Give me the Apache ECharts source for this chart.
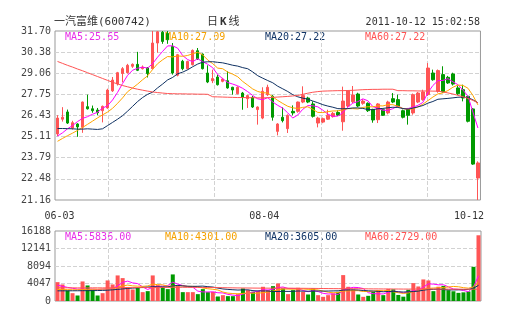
<!DOCTYPE html>
<html>
<head>
<meta charset="utf-8">
<title>一汽富维(600742) 日K线</title>
<script src="https://cdn.jsdelivr.net/npm/echarts@6.0.0/dist/echarts.min.js"></script>
<style>
html, body { margin: 0; padding: 0; background: #fff; }
#chart { width: 505px; height: 330px; }
</style>
</head>
<body>
<div id="chart"></div>
<script>
// ---- header texts ----
const stockName = '一汽富维(600742)';
const periodName = '日K线';
const quoteTime = '2011-10-12 15:02:58';

// ---- daily bars ----
const dates = [
  '06-03','06-07','06-08','06-09','06-10','06-13','06-14','06-15','06-16','06-17',
  '06-20','06-21','06-22','06-23','06-24','06-27','06-28','06-29','06-30',
  '07-01','07-04','07-05','07-06','07-07','07-08','07-11','07-12','07-13','07-14','07-15',
  '07-18','07-20','07-21','07-22','07-25','07-26','07-27','07-28','07-29',
  '08-01','08-02','08-03','08-04','08-05','08-08','08-09','08-10','08-11','08-12',
  '08-15','08-16','08-17','08-18','08-19','08-22','08-23','08-24','08-25','08-26',
  '08-29','08-30','08-31',
  '09-01','09-02','09-05','09-06','09-07','09-08','09-09','09-13','09-14','09-15','09-16',
  '09-19','09-20','09-21','09-23','09-26','09-27','09-28','09-29','09-30',
  '10-10','10-11','10-12'
];
const opens = [
  25.28,26.20,26.65,25.65,25.90,25.70,26.98,26.85,26.77,26.73,
  26.90,27.97,28.40,29.05,29.10,29.50,29.62,29.35,29.40,29.35,
  30.95,31.62,31.55,30.74,28.94,29.81,29.35,29.60,30.47,30.26,
  29.08,28.60,28.83,28.56,28.60,28.19,27.79,27.83,27.48,27.56,
  26.80,26.27,27.73,27.63,25.44,26.32,25.61,26.69,26.69,27.27,
  27.52,27.15,25.96,26.02,26.20,26.36,26.62,26.04,27.02,27.29,
  27.77,27.19,27.19,26.81,26.17,26.79,26.59,27.48,27.42,26.73,
  26.84,26.59,27.27,27.42,27.73,29.08,27.94,28.98,28.81,29.02,
  28.15,28.04,27.63,26.84,22.53
];
const closes = [
  26.27,26.32,25.96,25.98,25.72,27.27,26.85,26.73,26.60,27.00,
  28.02,28.64,29.10,29.35,29.56,29.62,29.25,29.45,29.05,30.95,
  31.65,31.05,31.15,29.08,30.22,29.35,29.80,30.49,29.97,29.35,
  28.52,28.73,28.35,28.70,28.15,28.02,28.19,27.56,27.67,26.96,
  26.96,27.94,28.19,26.32,25.90,26.11,26.44,26.59,27.27,27.67,
  27.27,26.38,26.27,26.23,26.45,26.56,26.45,27.33,27.96,27.71,
  27.02,27.33,26.73,26.15,27.15,26.44,27.27,27.27,27.00,26.32,
  26.44,27.73,27.83,27.90,29.39,28.66,29.23,27.90,28.46,28.39,
  27.79,27.52,26.07,23.40,23.47
];
const lows = [
  25.15,26.05,25.90,25.55,25.10,25.35,26.80,26.60,26.45,26.00,
  26.85,27.90,28.30,28.50,29.05,29.40,29.20,29.30,28.80,29.30,
  30.35,30.90,30.90,28.98,28.87,29.25,29.30,29.55,29.90,29.30,
  28.45,28.45,28.30,28.50,28.10,27.73,27.75,26.79,26.90,26.90,
  25.86,26.20,27.65,26.11,25.19,26.00,25.34,26.44,26.60,27.20,
  27.20,26.30,25.69,25.95,26.15,26.30,26.40,25.48,26.95,27.20,
  26.95,27.10,26.65,25.98,25.96,26.40,26.50,27.20,26.95,26.25,
  25.86,26.48,27.20,27.35,27.65,28.60,27.85,27.85,28.40,28.30,
  27.70,27.31,26.00,23.35,21.16
];
const highs = [
  26.45,26.95,26.80,26.10,25.95,27.30,27.73,27.05,26.90,27.05,
  28.10,28.83,29.15,29.45,29.65,29.68,30.40,29.55,29.45,31.70,
  31.70,31.70,31.70,30.95,30.27,29.90,29.85,30.55,30.64,30.30,
  29.56,29.29,28.98,28.78,29.19,28.22,28.25,27.90,27.72,27.65,
  27.00,28.19,28.35,27.70,25.95,26.94,26.50,27.06,27.30,28.25,
  27.60,27.31,26.35,26.30,26.79,26.65,26.75,28.23,28.00,28.27,
  27.85,27.45,27.25,26.85,27.20,26.85,27.35,27.83,27.73,26.80,
  26.90,27.80,27.90,28.04,29.70,29.29,29.30,29.50,28.90,29.10,
  28.30,28.35,27.70,26.90,23.57
];
const volumes = [
  4360,3826,2435,1809,1275,4522,3594,2590,1275,1809,
  4754,3826,5913,5295,3208,2667,3053,2048,2280,5913,
  3671,3285,2743,6145,3671,2048,2048,2048,1584,2743,
  2048,2125,1043,1352,1120,1120,1584,2898,2511,2125,
  2280,3285,2511,3440,4057,2898,1584,2511,3053,2125,
  1507,2898,1352,965,1352,1738,2125,5990,3285,2666,
  1507,965,1197,2125,2511,1352,2800,2700,1400,1000,
  2600,4135,3363,4986,4754,2280,3300,3500,2500,2250,
  1880,2000,2200,7900,15200
];

// moving-average values for the days before a full window is on screen
const ma5Lead = [25.15, 25.35, 25.60, 25.80];
const ma10Lead = [24.82, 25.00, 25.17, 25.33, 25.50, 25.68, 25.88, 26.08, 26.28];
const ma20Lead = [
  25.62, 25.62, 25.61, 25.60, 25.58, 25.58, 25.60, 25.58, 25.56, 25.60,
  25.80, 26.00, 26.20, 26.42, 26.70, 27.00, 27.30, 27.55, 27.75
];
const ma60 = [
  29.80,29.68,29.56,29.45,29.33,29.22,29.10,28.98,28.86,28.74,
  28.62,28.50,28.40,28.30,28.22,28.14,28.07,28.01,27.95,27.90,
  27.86,27.83,27.80,27.79,27.78,27.78,27.77,27.77,27.76,27.76,
  27.75,27.60,27.59,27.58,27.57,27.56,27.55,27.55,27.54,27.54,
  27.53,27.53,27.54,27.56,27.58,27.60,27.62,27.65,27.68,27.75,
  27.82,27.88,27.92,27.95,27.96,27.97,27.98,27.98,27.99,28.00,
  28.02,28.04,28.05,28.06,28.06,28.07,28.07,28.07,27.98,27.98,
  27.97,27.97,27.96,27.96,27.96,27.95,27.95,27.90,27.84,27.77,
  27.69,27.60,27.50,27.37,27.22
];

const volMa5Lead = [3650, 3400, 3150, 2950];
const volMa10Lead = [2650, 2640, 2620, 2600, 2600, 2650, 2700, 2720, 2740];
const volMa20Lead = [
  2350, 2350, 2360, 2360, 2370, 2380, 2390, 2400, 2420, 2450,
  2500, 2580, 2680, 2800, 2900, 2980, 3060, 3140, 3220
];
const volMa60 = [
  3050,3045,3040,3035,3030,3030,3035,3040,3040,3035,
  3040,3050,3070,3090,3100,3100,3105,3100,3110,3130,
  3140,3145,3150,3170,3175,3170,3160,3150,3140,3140,
  3130,3120,3100,3080,3060,3040,3020,3010,3000,2990,
  2980,2975,2970,2970,2975,2970,2960,2950,2945,2935,
  2925,2915,2900,2885,2870,2860,2850,2860,2855,2850,
  2840,2825,2810,2800,2795,2785,2780,2775,2770,2760,
  2755,2760,2765,2770,2772,2765,2760,2755,2750,2745,
  2740,2735,2730,2728,2729
];

// axis tick labels
const priceTickLabels = ['21.16', '22.48', '23.79', '25.11', '26.43', '27.75', '29.06', '30.38', '31.70'];
const volumeTickLabels = ['0', '4047', '8094', '12141', '16188'];

// ---- derived series ----
function movingAverage(values, n, lead) {
  return values.map(function (v, i) {
    if (i < n - 1) return lead[i];
    let sum = 0;
    for (let k = i - n + 1; k <= i; k++) sum += values[k];
    return sum / n;
  });
}

const candles = dates.map((d, i) => [opens[i], closes[i], lows[i], highs[i]]);
const ma5 = movingAverage(closes, 5, ma5Lead);
const ma10 = movingAverage(closes, 10, ma10Lead);
const ma20 = movingAverage(closes, 20, ma20Lead);
const volMa5 = movingAverage(volumes, 5, volMa5Lead);
const volMa10 = movingAverage(volumes, 10, volMa10Lead);
const volMa20 = movingAverage(volumes, 20, volMa20Lead);

const UP = '#ff5555';
const DOWN = '#009a00';
const C_MA5 = '#ff00ff';
const C_MA10 = '#ffa500';
const C_MA20 = '#0f3162';
const C_MA60 = '#ff5353';
const MONO = '"DejaVu Sans Mono", "Liberation Mono", monospace';
const MIXED = '"DejaVu Sans Mono", "Noto Sans CJK SC", sans-serif';

const volumeBars = volumes.map((v, i) => ({
  value: v,
  itemStyle: { color: closes[i] >= opens[i] ? UP : DOWN }
}));

const priceMin = parseFloat(priceTickLabels[0]);
const priceMax = parseFloat(priceTickLabels[priceTickLabels.length - 1]);
const priceStep = (priceMax - priceMin) / (priceTickLabels.length - 1);
const volMax = parseFloat(volumeTickLabels[volumeTickLabels.length - 1]);
const volStep = volMax / (volumeTickLabels.length - 1);

const last = dates.length - 1;
const midIndex = Math.floor(last / 2);
const dateLabelStyle = { fontFamily: MONO, fontSize: 10, color: '#333', lineHeight: 12 };

const GRID_LINE = '#d2d2d2';
const DASH = [4, 2];

// vertical dashed guides on the odd eighths of each panel
function guideAxis(gridIndex) {
  return {
    type: 'value', gridIndex: gridIndex, min: 0, max: 8, interval: 1,
    position: 'top',
    axisLine: { show: false }, axisTick: { show: false }, axisLabel: { show: false },
    splitLine: { show: true, lineStyle: { color: ['rgba(0,0,0,0)', GRID_LINE], type: DASH, width: 1 } }
  };
}

function maLine(name, data, color, xi, yi) {
  return {
    name: name, type: 'line', data: data, xAxisIndex: xi, yAxisIndex: yi,
    symbol: 'none', showSymbol: false, smooth: false, silent: true,
    lineStyle: { color: color, width: 1 }, z: 3
  };
}

function headerText(text, x, y, color, opts) {
  return Object.assign({
    type: 'text', x: x, y: y, silent: true,
    style: Object.assign({ text: text, fill: color, font: '10px ' + MONO, verticalAlign: 'middle' }, (opts && opts.style) || {})
  }, {});
}

const chart = echarts.init(document.getElementById('chart'), null, { renderer: 'canvas' });

chart.setOption({
  animation: false,
  backgroundColor: '#fff',
  grid: [
    { left: 55, top: 31, width: 426, height: 169, show: true, borderColor: '#999', borderWidth: 1, backgroundColor: 'rgba(0,0,0,0)' },
    { left: 55, top: 231, width: 426, height: 70, show: true, borderColor: '#999', borderWidth: 1, backgroundColor: 'rgba(0,0,0,0)' }
  ],
  xAxis: [
    {
      type: 'category', gridIndex: 0, data: dates, boundaryGap: true,
      axisLine: { show: false }, axisTick: { show: false },
      splitLine: { show: false },
      axisLabel: {
        margin: 10,
        interval: function (index) { return index === 0 || index === midIndex || index === last; },
        formatter: function (value, index) {
          if (index === 0) return '{first|' + value + '}';
          if (index === last) return '{end|' + value + '}';
          return '{mid|' + value + '}';
        },
        rich: {
          first: Object.assign({ padding: [0, 0, 0, 4] }, dateLabelStyle),
          mid: Object.assign({ padding: [0, 7, 0, 0] }, dateLabelStyle),
          end: Object.assign({ padding: [0, 18, 0, 0] }, dateLabelStyle)
        }
      }
    },
    guideAxis(0),
    {
      type: 'category', gridIndex: 1, data: dates, boundaryGap: true,
      axisLine: { show: false }, axisTick: { show: false },
      axisLabel: { show: false }, splitLine: { show: false }
    },
    guideAxis(1)
  ],
  yAxis: [
    {
      type: 'value', gridIndex: 0, min: priceMin, max: priceMax, interval: priceStep,
      axisLine: { show: false }, axisTick: { show: false },
      axisLabel: {
        margin: 4, fontFamily: MONO, fontSize: 10, color: '#444',
        formatter: function (v) { return priceTickLabels[Math.round((v - priceMin) / priceStep)]; }
      },
      splitLine: { show: true, showMinLine: false, showMaxLine: false, lineStyle: { color: GRID_LINE, type: DASH, width: 1 } }
    },
    {
      type: 'value', gridIndex: 1, min: 0, max: volMax, interval: volStep,
      axisLine: { show: false }, axisTick: { show: false },
      axisLabel: {
        margin: 4, fontFamily: MONO, fontSize: 10, color: '#444',
        formatter: function (v) { return volumeTickLabels[Math.round(v / volStep)]; }
      },
      splitLine: { show: true, showMinLine: false, showMaxLine: false, lineStyle: { color: GRID_LINE, type: DASH, width: 1 } }
    }
  ],
  series: [
    {
      name: '日K', type: 'candlestick', data: candles, xAxisIndex: 0, yAxisIndex: 0,
      barWidth: 3,
      itemStyle: { color: UP, color0: DOWN, borderColor: UP, borderColor0: DOWN, borderWidth: 1 },
      silent: true, z: 2
    },
    maLine('MA5', ma5, C_MA5, 0, 0),
    maLine('MA10', ma10, C_MA10, 0, 0),
    maLine('MA20', ma20, C_MA20, 0, 0),
    maLine('MA60', ma60, C_MA60, 0, 0),
    {
      name: '成交量', type: 'bar', data: volumeBars, xAxisIndex: 2, yAxisIndex: 1,
      barWidth: 4, silent: true, z: 2
    },
    maLine('VMA5', volMa5, C_MA5, 2, 1),
    maLine('VMA10', volMa10, C_MA10, 2, 1),
    maLine('VMA20', volMa20, C_MA20, 2, 1),
    maLine('VMA60', volMa60, C_MA60, 2, 1)
  ],
  graphic: [
    { type: 'text', x: 54, y: 22, silent: true,
      style: { text: stockName, fill: '#333', font: '11px ' + MIXED, verticalAlign: 'middle' } },
    { type: 'text', x: 207, y: 22, silent: true,
      style: {
        text: '{a|' + periodName.charAt(0) + '}{k|' + periodName.charAt(1) + '}{a|' + periodName.charAt(2) + '}',
        verticalAlign: 'middle',
        rich: {
          a: { font: '11px ' + MIXED, fill: '#333' },
          k: { font: 'bold 11px ' + MIXED, fill: '#333', padding: [0, 2] }
        }
      } },
    { type: 'text', x: 480, y: 22, silent: true,
      style: { text: quoteTime, fill: '#333', font: '10px ' + MONO, align: 'right', verticalAlign: 'middle' } },

    headerText('MA5:' + ma5[last].toFixed(2), 65, 37, '#e830e8'),
    headerText('MA10:' + ma10[last].toFixed(2), 165, 37, '#f5a100'),
    headerText('MA20:' + ma20[last].toFixed(2), 265, 37, '#123566'),
    headerText('MA60:' + ma60[last].toFixed(2), 365, 37, '#ff5353'),

    headerText('MA5:' + volMa5[last].toFixed(2), 65, 237, '#e830e8'),
    headerText('MA10:' + volMa10[last].toFixed(2), 165, 237, '#f5a100'),
    headerText('MA20:' + volMa20[last].toFixed(2), 265, 237, '#123566'),
    headerText('MA60:' + volMa60[last].toFixed(2), 365, 237, '#ff5353')
  ]
});
</script>
</body>
</html>
